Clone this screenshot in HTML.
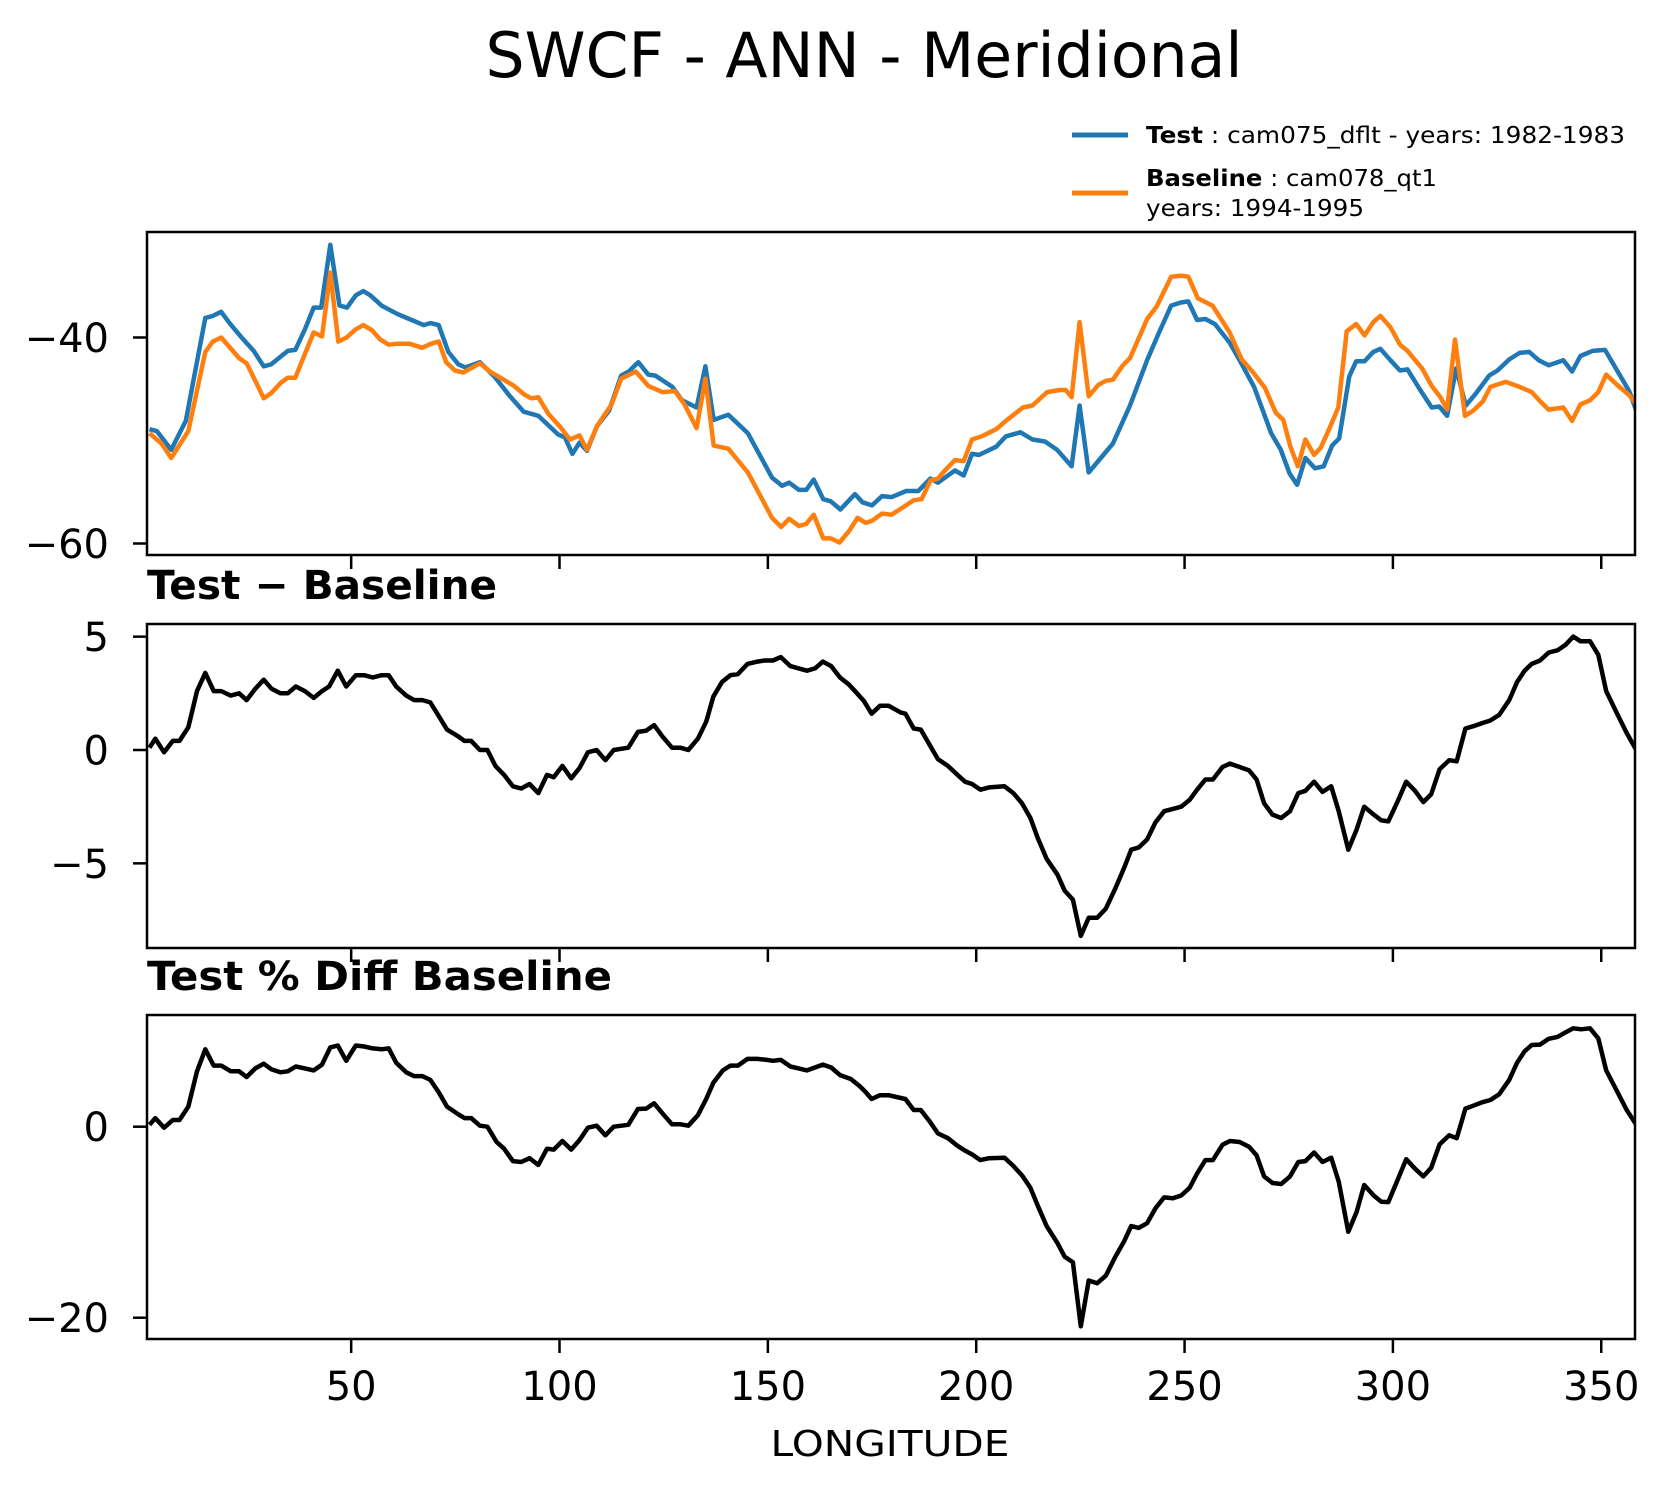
<!DOCTYPE html>
<html><head><meta charset="utf-8">
<style>
html,body{margin:0;padding:0;background:#fff;}
svg{display:block;font-family:"DejaVu Sans","Liberation Sans",sans-serif;}
</style></head>
<body>
<svg id="fig" width="1667" height="1496" viewBox="0 0 1667 1496" xmlns="http://www.w3.org/2000/svg">
<rect x="0" y="0" width="1667" height="1496" fill="#fff"/>
<text x="864" y="77" font-size="62" text-anchor="middle" textLength="757" lengthAdjust="spacingAndGlyphs">SWCF - ANN - Meridional</text>
<g>
  <line x1="1072" y1="135" x2="1128" y2="135" stroke="#1f77b4" stroke-width="5"/>
  <text x="1146" y="143" font-size="23" textLength="479" lengthAdjust="spacingAndGlyphs"><tspan font-weight="bold">Test</tspan> : cam075_dflt - years: 1982-1983</text>
  <line x1="1072" y1="193" x2="1128" y2="193" stroke="#ff7f0e" stroke-width="5"/>
  <text x="1146" y="186" font-size="23" textLength="291" lengthAdjust="spacingAndGlyphs"><tspan font-weight="bold">Baseline</tspan> : cam078_qt1</text>
  <text x="1146" y="216" font-size="23" textLength="218" lengthAdjust="spacingAndGlyphs">years: 1994-1995</text>
</g>
<text x="147" y="599" font-size="40" font-weight="bold" textLength="350" lengthAdjust="spacingAndGlyphs">Test − Baseline</text>
<text x="147" y="990" font-size="40" font-weight="bold" textLength="465" lengthAdjust="spacingAndGlyphs">Test % Diff Baseline</text>
<text x="890" y="1456" font-size="36" text-anchor="middle" textLength="239" lengthAdjust="spacingAndGlyphs">LONGITUDE</text>
<g id="plots"></g>
</svg>
<script>
const testLon=[1.6,3.4,6.8,10.3,15,16.8,18.8,20.8,23.7,26.6,29,30.8,34.8,36.6,38.9,41,42.8,45,47.2,49,51.1,52.9,54.6,57.3,61,64.5,67.4,69,71,73.3,75.7,77.4,80.9,84.4,87.9,91.4,94.9,99.6,101.3,103.1,104.8,106.6,109,111.9,114.8,116.6,118.9,121.3,123,127.1,129.4,132.9,135,137,140.5,145.2,151,153.4,155.1,157.5,159.2,161,163.3,165.1,167.4,170.9,172.7,175,177.4,179.7,183.2,186.1,189,190.8,194.9,197,199,200.7,204.8,207.1,210.6,213.5,216.5,219.4,222.9,224.8,227,229.9,232.8,236.9,241,243.9,246.8,249.1,250.9,253,255,257.3,260.8,263.2,266.7,270.8,273.1,275.2,277,279,281.3,283.4,285.4,287.1,289.5,291.2,293.2,295.3,297,299.4,301.7,303.5,306.4,309.3,311.1,313,315.2,317.5,319.8,323.1,325.1,328,330.4,332.7,335,337.4,340.9,343,345,347.9,350.9,353.8,356.7,359];
const testVal=[-48.9,-49.1,-50.9,-48.1,-38.1,-37.9,-37.5,-38.6,-40.0,-41.3,-42.8,-42.6,-41.3,-41.2,-39.2,-37.1,-37.1,-31,-36.9,-37.1,-35.9,-35.5,-35.9,-36.9,-37.7,-38.3,-38.8,-38.6,-38.8,-41.4,-42.6,-42.9,-42.4,-43.8,-45.6,-47.2,-47.6,-49.4,-49.7,-51.3,-50.2,-51,-48.6,-47.1,-43.7,-43.3,-42.4,-43.6,-43.7,-44.8,-46.1,-46.8,-42.8,-48,-47.5,-49.3,-53.6,-54.4,-54.1,-54.8,-54.8,-53.8,-55.7,-55.9,-56.7,-55.2,-56,-56.3,-55.4,-55.5,-54.9,-54.9,-53.7,-54.1,-52.9,-53.4,-51.3,-51.4,-50.6,-49.6,-49.2,-49.9,-50.1,-50.9,-52.5,-46.6,-53.1,-51.7,-50.3,-46.6,-42.2,-39.5,-36.9,-36.6,-36.5,-38.3,-38.2,-38.7,-40.5,-42.2,-44.8,-49.3,-50.9,-53.2,-54.3,-51.7,-52.7,-52.5,-50.5,-49.8,-43.8,-42.3,-42.3,-41.4,-41.1,-42.2,-43.2,-43.1,-45,-46.8,-46.7,-47.6,-43,-46.6,-45.5,-43.7,-43.2,-42.1,-41.5,-41.4,-42.2,-42.7,-42.2,-43.3,-41.8,-41.3,-41.2,-43.2,-45.2,-47.8];
const baseLon=[1.6,4.5,6.8,10.9,15,16.8,18.8,23.1,24.9,27,29,30.8,33.1,34.8,36.6,38.9,41,43,45,46.9,48.9,51.1,52.9,55,57,59,61,64,67,69.2,71,72.8,74.9,76.9,80.9,83.3,86.2,89.1,91.4,93.2,94.9,97.3,100.2,102.5,104.8,106.6,109,112.5,114.8,118.3,121.3,124.7,127.7,130,132.9,135,137,140.5,145.2,151,153.2,155.1,157.5,159.2,161,163.3,165.1,167.2,169.5,171.5,173.5,175,177.4,179.7,182,185,186.9,189,190.8,192.5,194.9,197,199,201.3,204.8,207.1,211.2,213.5,217,220,221.5,222.9,224.8,227,229.3,231.1,232.8,235.2,236.9,239.3,241,243.3,246.8,249.1,250.9,253.2,256.7,260.8,263.7,266.7,269.3,271.9,273.7,275.4,277.2,279,281.1,282.7,284.8,286.9,288.9,291.2,293.2,295.3,297,299.4,301.7,303.5,307,309.3,311.4,313,314.9,317.3,319.3,321.6,323.4,327.1,330.4,333.3,335.6,337.4,340.9,343,345,347.3,349.3,351.2,353.8,356.7,359];
const baseVal=[-49.3,-50.3,-51.7,-49.1,-41.4,-40.4,-40,-42,-42.5,-44.2,-45.9,-45.4,-44.4,-43.9,-43.9,-41.6,-39.5,-39.9,-33.7,-40.4,-40,-39.2,-38.8,-39.3,-40.2,-40.7,-40.6,-40.6,-41,-40.6,-40.4,-42.4,-43.2,-43.4,-42.5,-43.3,-44,-44.7,-45.5,-45.9,-45.8,-47.4,-48.7,-49.9,-49.5,-50.9,-48.6,-46.5,-44,-43.3,-44.7,-45.3,-45.2,-46.5,-48.8,-44,-50.5,-50.8,-53.1,-57.5,-58.4,-57.6,-58.3,-58.1,-57.2,-59.5,-59.5,-59.9,-58.8,-57.5,-58,-57.8,-57.1,-57.2,-56.6,-55.8,-55.7,-53.9,-53.7,-52.9,-51.9,-52,-49.9,-49.6,-48.9,-48.1,-46.8,-46.6,-45.3,-45.1,-45.1,-45.8,-38.5,-45.7,-44.6,-44.2,-44.1,-42.7,-42,-39.8,-38.2,-37,-34.1,-34,-34.1,-36.2,-36.9,-39.5,-42.1,-43.5,-44.9,-47.3,-48,-50.6,-52.5,-49.9,-51.4,-50.7,-48.8,-46.8,-39.4,-38.7,-39.8,-38.5,-37.9,-39,-40.7,-41.3,-43,-44.7,-45.8,-47,-40.2,-47.6,-47.1,-46.2,-44.8,-44.3,-44.8,-45.3,-46.3,-47,-46.8,-48.1,-46.5,-46.1,-45.3,-43.6,-44.6,-45.6,-46.8];
const diffLon=[1.6,3.0,5.1,7.2,8.8,10.9,13,15,17,18.8,21.1,23.1,24.9,27,29,30.9,33,34.8,36.7,38.9,41,43,44.7,46.8,48.8,51.1,53.1,55.2,57.3,59,60.8,63.2,65.1,67.1,69,71,73,75.7,77.2,78.8,80.9,82.7,84.6,86.7,88.8,90.8,92.8,94.9,97,98.6,100.7,102.8,104.8,106.8,108.9,111,113,116.5,118.8,120.8,122.7,124.7,127,129,130.9,133.2,135.2,136.9,139,141,142.8,145.1,147.5,149.2,151.2,153.1,155.4,157.4,159.4,161.3,163.2,165.2,167.3,169.4,171.4,173.1,174.9,176.9,179,181.9,183,185,186.7,188.9,190.8,193.2,195.5,197.3,199,201,203.1,206.8,208.9,211,213,214.8,216.9,219.5,221.2,223.2,225.1,227,229,231.1,233.4,235.5,237.2,239,241,243,245.1,247.2,249.2,251.2,253,255,256.8,259.1,260.9,263.2,265.5,267.3,269.1,271.1,273.2,275.3,277.3,279,281.1,283.1,285.2,287,289.3,291.3,293.1,295.4,297.2,298.9,301.3,303.2,305.3,307.3,309.2,311.2,313.5,315.3,317.4,319.3,321.7,323.4,325.5,327.9,329.8,331.6,333.3,335.3,337.4,339.5,341.5,343.3,345,347.3,349.3,351.2,353.8,356.1,359];
const diffVal=[0.1,0.5,-0.1,0.4,0.4,1.0,2.6,3.4,2.6,2.6,2.4,2.5,2.2,2.7,3.1,2.7,2.5,2.5,2.8,2.6,2.3,2.6,2.8,3.5,2.8,3.3,3.3,3.2,3.3,3.3,2.8,2.4,2.2,2.2,2.1,1.5,0.9,0.6,0.4,0.4,0.0,0.0,-0.7,-1.1,-1.6,-1.7,-1.5,-1.9,-1.1,-1.2,-0.7,-1.25,-0.8,-0.1,0.0,-0.45,0.0,0.1,0.8,0.85,1.1,0.6,0.1,0.1,0.0,0.5,1.25,2.35,3.0,3.3,3.35,3.8,3.9,3.95,3.95,4.1,3.7,3.6,3.5,3.6,3.9,3.7,3.2,2.9,2.5,2.15,1.6,1.95,1.95,1.65,1.6,0.95,0.9,0.2,-0.4,-0.7,-1.1,-1.4,-1.5,-1.75,-1.65,-1.6,-1.9,-2.35,-3.0,-3.9,-4.8,-5.5,-6.2,-6.6,-8.2,-7.4,-7.4,-7.0,-6.1,-5.2,-4.4,-4.3,-3.95,-3.2,-2.7,-2.6,-2.5,-2.2,-1.75,-1.3,-1.3,-0.75,-0.6,-0.75,-0.9,-1.3,-2.35,-2.85,-3.0,-2.7,-1.9,-1.8,-1.4,-1.85,-1.6,-2.7,-4.4,-3.5,-2.5,-2.85,-3.1,-3.15,-2.2,-1.4,-1.8,-2.3,-1.95,-0.85,-0.45,-0.5,0.95,1.05,1.2,1.3,1.55,2.2,3.0,3.5,3.8,3.95,4.3,4.4,4.65,5.0,4.8,4.8,4.2,2.6,1.6,0.75,-0.2];
const pctLon=[1.6,3.0,5.1,7.2,8.8,10.9,13,15,17,18.8,21.1,23.1,24.9,27,29,30.9,33,34.8,36.7,38.9,41,43,45,46.8,48.8,51.1,53.1,55.2,57.3,59,60.8,63.2,65.1,67.1,69,71,73,75.7,77.2,78.8,80.9,82.7,84.9,86.7,88.8,90.8,92.8,94.9,97,98.6,100.7,102.8,104.8,106.8,108.9,111,113,116.5,118.8,120.8,122.7,124.7,127,129,130.9,133.2,135.2,136.9,139.2,141,142.8,145.1,147.5,149.8,151.2,153.1,155.4,157.4,159.4,161.3,163.2,165.2,167.3,169.9,171.9,173.3,174.9,176.9,179,181.9,183,185,186.7,188.9,190.8,193.2,195.5,197.3,199,201,203.1,206.8,208.9,211,213,214.8,216.9,219.5,221.2,223.2,225.1,227,229,231.1,233.4,235.5,237.2,239,241,243,245.1,247.2,249.2,251.2,253,255,256.8,259.1,260.9,263.2,265.5,267.3,269.1,271.1,273.2,275.3,277.3,279,281.1,283.1,285.2,287,289.3,291.3,293.1,295.4,297.2,298.9,301.3,303.2,305.3,307.3,309.2,311.2,313.5,315.3,317.4,319.3,321.7,323.4,325.5,327.9,329.8,331.6,333.3,335.3,337.4,339.5,341.5,343.3,345.2,347.3,349.3,351.2,353.8,356.1,359];
const pctVal=[0.2,0.9,-0.1,0.7,0.7,2.1,5.8,8.1,6.4,6.4,5.8,5.8,5.2,6.1,6.6,6.0,5.7,5.8,6.3,6.1,5.9,6.5,8.3,8.5,6.9,8.5,8.4,8.2,8.1,8.2,6.7,5.7,5.3,5.3,4.9,3.6,2.1,1.3,0.9,0.9,0.1,0.0,-1.6,-2.3,-3.6,-3.7,-3.3,-4.0,-2.3,-2.4,-1.5,-2.4,-1.4,-0.1,0.1,-0.9,0.0,0.2,1.85,1.9,2.45,1.4,0.25,0.25,0.1,1.2,2.9,4.6,5.9,6.4,6.4,7.1,7.1,7.0,6.9,7.0,6.3,6.1,5.9,6.2,6.5,6.2,5.4,5.0,4.3,3.7,2.9,3.3,3.3,3.0,2.9,1.75,1.75,0.5,-0.7,-1.2,-2.0,-2.5,-2.9,-3.5,-3.3,-3.25,-4.1,-5.1,-6.4,-8.3,-10.4,-12.2,-13.6,-14.2,-20.9,-16.1,-16.4,-15.6,-13.6,-12.0,-10.4,-10.6,-10.1,-8.55,-7.4,-7.5,-7.2,-6.4,-4.9,-3.5,-3.5,-1.9,-1.5,-1.6,-2.1,-3.0,-5.2,-5.9,-6.0,-5.2,-3.7,-3.6,-2.7,-3.7,-3.25,-5.75,-11,-8.9,-6.1,-7.2,-7.85,-7.9,-5.4,-3.4,-4.4,-5.2,-4.3,-1.85,-0.9,-1.2,1.9,2.2,2.6,2.8,3.4,4.9,6.7,7.9,8.55,8.6,9.2,9.4,9.9,10.3,10.2,10.3,9.25,5.9,3.7,1.75,-0.2];
const xTicks=[50,100,150,200,250,300,350];
const xTickLabels=["50","100","150","200","250","300","350"];
const p1Ticks=[-40,-60], p1Labels=["\u221240","\u221260"];
const p2Ticks=[5,0,-5], p2Labels=["5","0","\u22125"];
const p3Ticks=[0,-20], p3Labels=["0","\u221220"];

const NS="http://www.w3.org/2000/svg";
const root=document.getElementById('plots');
const X0=147,X1=1635,LMIN=1.0,LMAX=358.1;
function xs(l){return X0+(l-LMIN)/(LMAX-LMIN)*(X1-X0);}
function mk(tag,attrs,parent){const e=document.createElementNS(NS,tag);for(const k in attrs)e.setAttribute(k,attrs[k]);(parent||root).appendChild(e);return e;}
// panels: top, bottom, value at refY, refY, px per unit
const panels=[
 {name:'mean-panel',top:232,bot:555,v0:-40,y0:337.5,k:10.3,ticks:p1Ticks,labels:p1Labels},
 {name:'diff-panel',top:624,bot:948,v0:0,y0:750,k:22.67,ticks:p2Ticks,labels:p2Labels},
 {name:'pct-panel',top:1015,bot:1339,v0:0,y0:1126.7,k:9.55,ticks:p3Ticks,labels:p3Labels}
];
function yFn(p){return v=>p.y0-(v-p.v0)*p.k;}
function drawLine(p,idx,lons,vals,color,w,name){
  const y=yFn(p);
  let d='';
  for(let i=0;i<lons.length;i++){d+=(i?'L':'M')+xs(lons[i]).toFixed(1)+' '+y(vals[i]).toFixed(1);}
  const path=mk('path',{d:d,fill:'none',stroke:color,'stroke-width':w,'stroke-linejoin':'round','clip-path':'url(#clip'+idx+')'});
  
  
}
panels.forEach((p,idx)=>{
  const cp=mk('clipPath',{id:'clip'+idx});
  mk('rect',{x:X0,y:p.top,width:X1-X0,height:p.bot-p.top},cp);
  const y=yFn(p);
  p.ticks.forEach((t,i)=>{
    const ty=y(t);
    const tl=mk('line',{x1:133,y1:ty,x2:X0,y2:ty,stroke:'#000','stroke-width':2.5});
    
    
    const tx=mk('text',{x:109,y:ty+14.5,'font-size':40,'text-anchor':'end'});
    tx.textContent=p.labels[i];
    
    
  });
  xTicks.forEach((t,i)=>{
    const tl=mk('line',{x1:xs(t),y1:p.bot,x2:xs(t),y2:p.bot+14,stroke:'#000','stroke-width':2.5});
    
    
    if(idx===2){
      const tx=mk('text',{x:xs(t),y:1400,'font-size':40,'text-anchor':'middle'});
      tx.textContent=xTickLabels[i];
      
      
    }
  });
  if(idx===0){
    drawLine(p,idx,testLon,testVal,'#1f77b4',4.5,'test-series-line');
    drawLine(p,idx,baseLon,baseVal,'#ff7f0e',4.5,'baseline-series-line');
  } else if(idx===1){
    drawLine(p,idx,diffLon,diffVal,'#000',4.5,'difference-line');
  } else {
    drawLine(p,idx,pctLon,pctVal,'#000',4.5,'percent-difference-line');
  }
  const fr=mk('rect',{x:X0,y:p.top,width:X1-X0,height:p.bot-p.top,fill:'none',stroke:'#000','stroke-width':2.5});
  
  
});
</script>
</body></html>
